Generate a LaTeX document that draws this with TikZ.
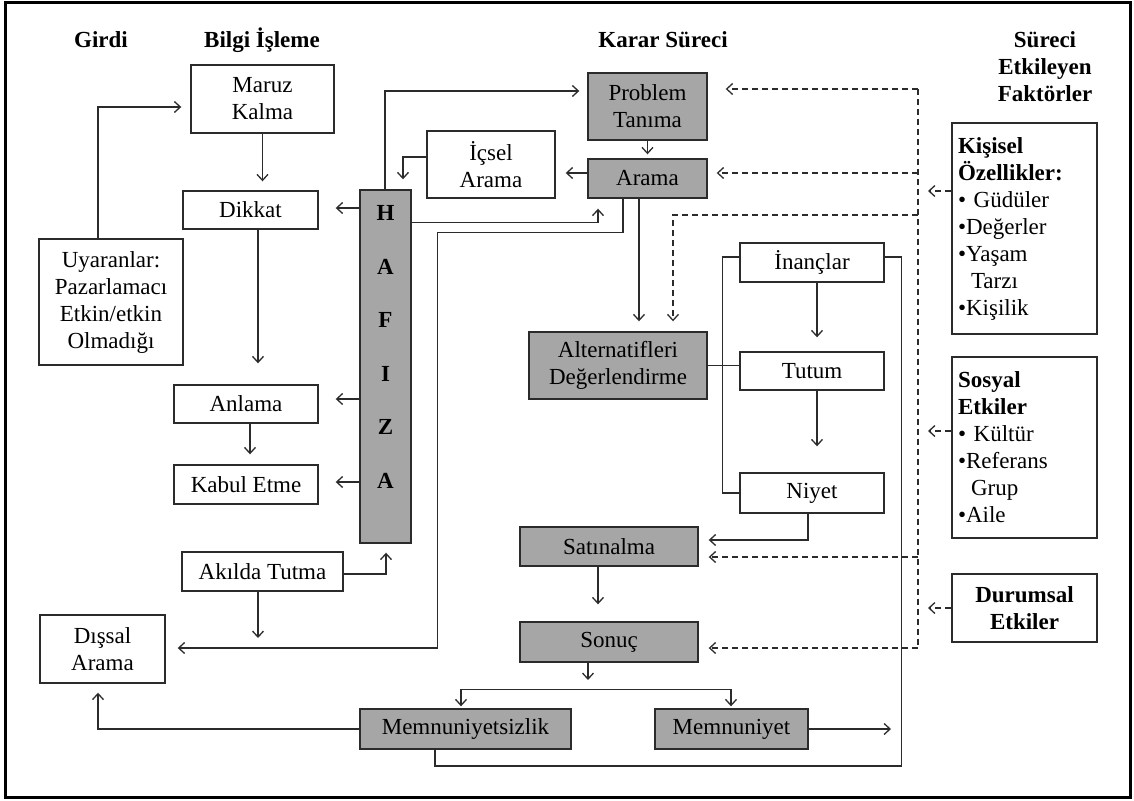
\documentclass[tikz,border=0pt]{standalone}
\usepackage{fontspec}
\setmainfont{Liberation Serif}
\usetikzlibrary{arrows.meta,calc}
\definecolor{linec}{HTML}{2B2B2B}
\definecolor{boxgray}{HTML}{A6A6A6}
\begin{document}
\begin{tikzpicture}[x=1pt,y=-1pt,
  every node/.style={font=\fontsize{23}{27}\selectfont, inner sep=0pt, text=black},
  wbox/.style={draw=linec, line width=1.4pt, fill=white, align=center},
  gbox/.style={wbox, fill=boxgray},
  sz/.style 2 args={minimum width=#1pt, minimum height=#2pt},
  head/.style={font=\fontsize{23}{27}\selectfont\bfseries, align=center},
  conn/.style={draw=linec, line width=1.3pt},
  arr/.style={conn, -{Straight Barb[length=6pt,width=11pt]}},
  darr/.style={arr, dashed, dash pattern=on 6pt off 4pt},
  dline/.style={conn, dash pattern=on 6pt off 4pt}
]
\useasboundingbox (0,0) rectangle (1134,800);
\draw[line width=3pt, black] (5,3) rectangle (1130,797);

% column headings
\node[head] (hgirdi) at (101,40) {Girdi};
\node[head] (hbilgi) at (262,40) {Bilgi İşleme};
\node[head] (hkarar) at (663,40) {Karar Süreci};
\node[head] (hfaktor) at (1045,67) {Süreci\\Etkileyen\\Faktörler};

% information processing
\node[wbox, sz={143}{68}] (maruz) at (262.5,99) {Maruz\\Kalma};
\node[wbox, sz={135}{38}] (dikkat) at (250.5,210) {Dikkat};
\node[wbox, sz={144}{126}] (uyar) at (111,302) {Uyaranlar:\\Pazarlamacı\\Etkin/etkin\\Olmadığı};
\node[gbox, sz={51}{353}] (hafiza) at (385.5,366.5) {};
\node[font=\fontsize{23}{53.6}\selectfont\bfseries, align=center] (hafizatext) at (385.5,347) {H\\A\\F\\I\\Z\\A};
\node[wbox, sz={144}{38}] (anlama) at (246,404) {Anlama};
\node[wbox, sz={144}{39}] (kabul) at (246,484.5) {Kabul Etme};
\node[wbox, sz={161}{39}] (akilda) at (262.5,571.5) {Akılda Tutma};
\node[wbox, sz={125}{68}] (dissal) at (102.5,649) {Dışsal\\Arama};

% decision process
\node[gbox, sz={119}{67}] (problem) at (647.5,106.5) {Problem\\Tanıma};
\node[wbox, sz={128}{67}] (icsel) at (491,164.5) {İçsel\\Arama};
\node[gbox, sz={119}{39}] (arama) at (647.5,178.5) {Arama};
\node[gbox, sz={178}{67}] (altern) at (618,365.5) {Alternatifleri\\Değerlendirme};
\node[wbox, sz={144}{39}] (inanc) at (812,262.5) {İnançlar};
\node[wbox, sz={144}{38}] (tutum) at (812,371) {Tutum};
\node[wbox, sz={144}{40}] (niyet) at (812,493) {Niyet};
\node[gbox, sz={178}{39}] (satin) at (609,546.5) {Satınalma};
\node[gbox, sz={178}{40}] (sonuc) at (609,642) {Sonuç};
\node[gbox, sz={211}{40}] (memsiz) at (465.5,729) {Memnuniyetsizlik};
\node[gbox, sz={153}{40}] (mem) at (731.5,729) {Memnuniyet};

% influencing factors
\node[wbox, sz={145}{211}, text width=133pt, align=left] (kisisel) at (1024.5,228.5)
  {\textbf{Kişisel}\\\textbf{Özellikler:}\\• Güdüler\\•Değerler\\•Yaşam\\\hspace*{13pt}Tarzı\\•Kişilik};
\node[wbox, sz={145}{181}, text width=133pt, align=left] (sosyal) at (1024.5,447.5)
  {\textbf{Sosyal}\\\textbf{Etkiler}\\• Kültür\\•Referans\\\hspace*{13pt}Grup\\•Aile};
\node[wbox, sz={145}{68}, font=\fontsize{23}{27}\selectfont\bfseries] (durum) at (1024.5,608) {Durumsal\\Etkiler};

% free ends of connectors
\coordinate (trunktop) at (918,89);
\coordinate (trunkbot) at (918,648);
\coordinate (trunkalt) at (918,215);
\coordinate (akildaend) at (258,648);
\coordinate (split) at (588,690);
\coordinate (memend) at (891,729);

% information processing flow
\draw[arr, shorten >=9pt] ($(uyar.north)+(-13,0)$) |- ($(maruz.west)+(0,8)$);
\draw[arr, shorten >=9pt] (maruz.south) -- (maruz.south |- dikkat.north);
\draw[arr, shorten >=21pt] ($(dikkat.south)+(7.5,0)$) -- ($(anlama.north)+(12,0)$);
\draw[arr, shorten >=10pt] ($(anlama.south)+(4,0)$) -- ($(kabul.north)+(4,0)$);
\draw[arr, shorten >=17pt] ($(hafiza.west |- dikkat.east)+(0,-2)$) -- ($(dikkat.east)+(0,-2)$);
\draw[arr, shorten >=17pt] ($(hafiza.west |- anlama.east)+(0,-5)$) -- ($(anlama.east)+(0,-5)$);
\draw[arr, shorten >=17pt] ($(hafiza.west |- kabul.east)+(0,-2.5)$) -- ($(kabul.east)+(0,-2.5)$);
\draw[arr, shorten >=9pt] ($(akilda.east)+(0,2.5)$) -| ($(hafiza.south)+(0.5,0)$);
\draw[arr, shorten >=10pt] ($(akilda.south)+(-4.5,0)$) -- (akildaend);
\draw[arr, shorten >=12pt] ($(arama.south)+(-24.5,0)$) -- ++(0,34) -| ($(dissal.east)+(272,-1)$) -- ($(dissal.east)+(0,-1)$);
\draw[arr, shorten >=10pt] ($(hafiza.north east)+(0,33)$) -| ($(arama.south)+(-49.5,0)$);
\draw[arr, shorten >=8pt] ($(hafiza.north)+(-0.5,0)$) |- ($(problem.west)+(0,-15.5)$);
\draw[arr, shorten >=10pt] ($(icsel.west)+(0,-7.5)$) -| ($(hafiza.north)+(17.5,0)$);
\draw[arr, shorten >=10pt] ($(arama.west)+(0,-5.5)$) -- ($(icsel.east)+(0,8.5)$);

% decision flow
\draw[arr, shorten >=4pt] (problem.south) -- (arama.north);
\draw[arr, shorten >=10pt] ($(arama.south)+(-8.5,0)$) -- ($(altern.north)+(21,0)$);
\draw[conn] (altern.east) -- (altern.east -| tutum.west);
\draw[arr, shorten >=14pt] ($(inanc.south)+(5,0)$) -- ($(tutum.north)+(5,0)$);
\draw[arr, shorten >=26pt] ($(tutum.south)+(5,0)$) -- ($(niyet.north)+(5,0)$);
\draw[conn] ($(inanc.west)+(0,-5.5)$) -- ++(-17,0) |- (niyet.west);
\draw[conn] ($(inanc.east)+(0,-5.5)$) -- ++(17,0) -- ++(0,509) -| ($(memsiz.south)+(-30.5,0)$);
\draw[arr, shorten >=10pt] ($(niyet.south)+(-4,0)$) |- ($(satin.east)+(0,-6.5)$);
\draw[arr, shorten >=17pt] ($(satin.south)+(-11,0)$) -- ($(sonuc.north)+(-11,0)$);
\draw[arr, shorten >=10pt] ($(sonuc.south)+(-21,0)$) -- (split);
\draw[arr, shorten >=2pt] ($(mem.north)+(-0.5,-19)$) -| ($(memsiz.north)+(-4.5,0)$);
\draw[arr, shorten >=2pt] ($(mem.north)+(-0.5,-19)$) -- ($(mem.north)+(-0.5,0)$);
\draw[arr, shorten >=9pt] (memsiz.west) -| ($(dissal.south)+(-4.5,0)$);
\draw[arr] (mem.east) -- (memend);

% influence of the factors (dashed)
\draw[dline] (trunktop) -- (trunkbot);
\draw[darr, shorten >=18pt] (trunktop) -- ($(problem.east)+(0,-17.5)$);
\draw[darr, shorten >=9pt] ($(trunktop)+(0,84)$) -- ($(arama.east)+(0,-5.5)$);
\draw[darr, shorten >=10pt] (trunkalt) -| ($(altern.north)+(55,0)$);
\draw[darr, shorten >=10pt] ($(satin.east -| trunktop)+(0,10.5)$) -- ($(satin.east)+(0,10.5)$);
\draw[darr, shorten >=10pt] ($(sonuc.east -| trunkbot)+(0,6)$) -- ($(sonuc.east)+(0,6)$);
\draw[darr, shorten >=10pt] ($(kisisel.west)+(0,-37.5)$) -- ($(kisisel.west -| trunktop)+(0,-37.5)$);
\draw[darr, shorten >=10pt] ($(sosyal.west)+(0,-16.5)$) -- ($(sosyal.west -| trunktop)+(0,-16.5)$);
\draw[darr, shorten >=10pt] (durum.west) -- (durum.west -| trunktop);
\end{tikzpicture}
\end{document}
